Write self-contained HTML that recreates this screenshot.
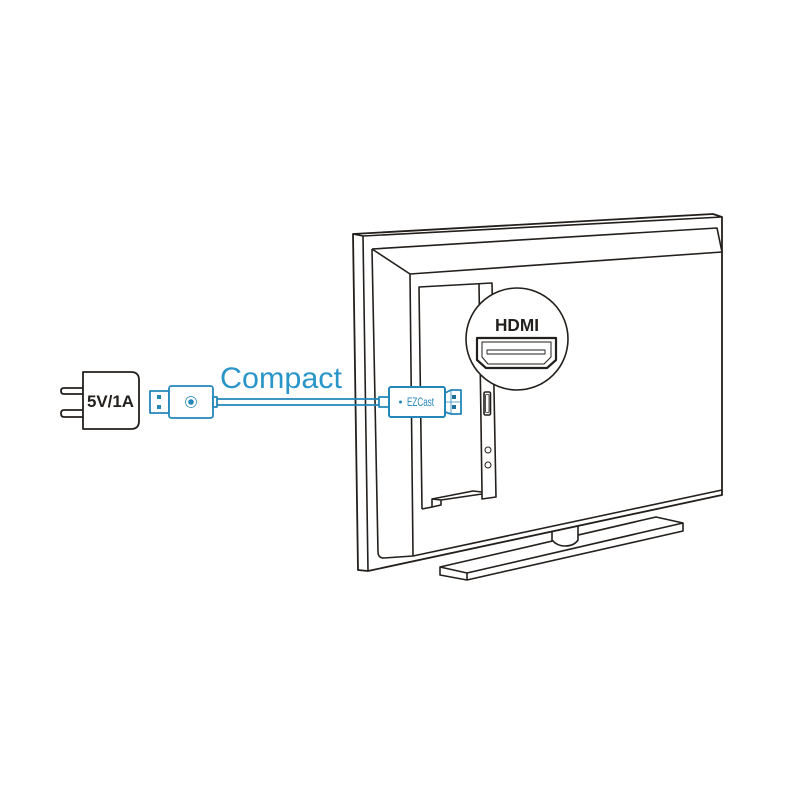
<!DOCTYPE html>
<html>
<head>
<meta charset="utf-8">
<style>
html,body{margin:0;padding:0;background:#fff;}
svg{display:block;}
</style>
</head>
<body>
<svg xmlns="http://www.w3.org/2000/svg" width="800" height="800" viewBox="0 0 800 800">
<rect width="800" height="800" fill="#fff"/>
<g fill="none" stroke="#231f1c" stroke-width="1.6" stroke-linejoin="round">
  <!-- stand -->
  <path d="M440 567 L656 517 L683 523 L683 531 L467 580 L440 575 Z" fill="#fff"/>
  <path d="M440 567 L467 573 L683 523 M467 573 L467 580"/>
  <path d="M552 530 L552 540 Q557 546 565 546 Q574 546 578 540 L578 525 Z" fill="#fff"/>
  <!-- tv -->
  <path d="M353 234 L713 214 L722 217 L722 495 L368 571 L358 570 Z" fill="#fff" stroke-width="1.8"/>
  <path d="M353 234 L363 236 L722 217"/>
  <path d="M363 236 L368 571"/>
  <path d="M372 249 L717 228 L722 252"/>
  <path d="M372 249 L378 552 Q378 558 384 558 L413 556 L722 490"/>
  <path d="M372 249 L410 274 L722 252"/>
  <path d="M410 274 L413 556"/>
  <!-- cutout -->
  <path d="M422 509 L419 287 L492 283 L496 497 L482 499 L482 492 L473 491 L432 499 L432 507 L422 509"/>
  <path d="M432 507 L441 505 L441 500 L482 494"/>
  <path d="M432 499 L441 500"/>
  <path d="M479 284 L482 492"/>
  <rect x="484" y="392" width="6.5" height="23" rx="1.5"/>
  <rect x="485.5" y="394.5" width="3.5" height="18" rx="1" stroke-width="0.8"/>
  <circle cx="488" cy="450" r="3" stroke-width="1"/>
  <circle cx="488" cy="465" r="3" stroke-width="1"/>
  <!-- HDMI callout -->
  <circle cx="517" cy="339" r="51" fill="#fff" stroke-width="1.6"/>
  <path d="M477 338 L556 338 L556 360 L547 368 L486 368 L477 360 Z" stroke-width="2.2"/>
  <path d="M482 342 L551 342 L551 357 L544 364 L488 364 L482 357 Z" stroke-width="1"/>
  <rect x="487" y="350" width="58" height="4" stroke-width="0.9"/>
  <!-- adapter -->
  <path d="M83 372 L131 372 Q139 372 139 380 L139 421 Q139 429 131 429 L83 429 Z" fill="#fff" stroke-width="1.8"/>
  <path d="M83 388 L64 388 Q61 388 61 391 Q61 394 64 394 L83 394" stroke-width="1.8"/>
  <path d="M83 410 L64 410 Q61 410 61 413.5 Q61 417 64 417 L83 417" stroke-width="1.8"/>
</g>
<text x="87" y="407" font-family="'Liberation Sans',sans-serif" font-weight="bold" font-size="17" fill="#231f1c" textLength="47" lengthAdjust="spacingAndGlyphs">5V/1A</text>
<text x="495" y="331" font-family="'Liberation Sans',sans-serif" font-weight="bold" font-size="17.5" fill="#231f1c" textLength="44" lengthAdjust="spacingAndGlyphs">HDMI</text>
<text x="220" y="388" font-family="'Liberation Sans',sans-serif" font-size="30" fill="#2a95c9" textLength="122" lengthAdjust="spacingAndGlyphs">Compact</text>
<!-- blue dongle -->
<g fill="none" stroke="#2386b8" stroke-width="1.8" stroke-linejoin="round">
  <rect x="150" y="391" width="19" height="22" fill="#fff"/>
  <rect x="169" y="386" width="44" height="32" rx="2.5" fill="#fff"/>
  <rect x="213" y="397" width="4" height="10" fill="#fff"/>
  <path d="M217 399 L379 399 M217 405 L379 405" stroke-width="1.8"/>
  <rect x="379" y="397" width="10" height="10" fill="#fff"/>
  <path d="M445 393 L451 390 L461 390 L461 414 L451 414 L445 412" fill="#fff"/>
  <path d="M451 390 L451 414" stroke-width="0.8"/>
  <path d="M445 402 L461 402" stroke-width="0.7"/>
  <rect x="389" y="387" width="56" height="30" rx="2" fill="#fff" stroke-width="2"/>
  <circle cx="191" cy="402" r="5.5" stroke-width="0.7"/>
</g>
<g fill="#2386b8">
  <rect x="157" y="395" width="4" height="4"/>
  <rect x="157" y="405" width="4" height="4"/>
  <circle cx="191" cy="402" r="2.8"/>
  <rect x="452" y="395" width="4" height="4" fill="#1f6f9c"/>
  <rect x="452" y="405" width="4" height="4" fill="#1f6f9c"/>
  <circle cx="400.500" cy="402" r="1.500"/>
</g>
<text x="407" y="406" font-family="'Liberation Sans',sans-serif" font-size="11.500" fill="#2386b8" textLength="27" lengthAdjust="spacingAndGlyphs">EZCast</text>
</svg>
</body>
</html>
